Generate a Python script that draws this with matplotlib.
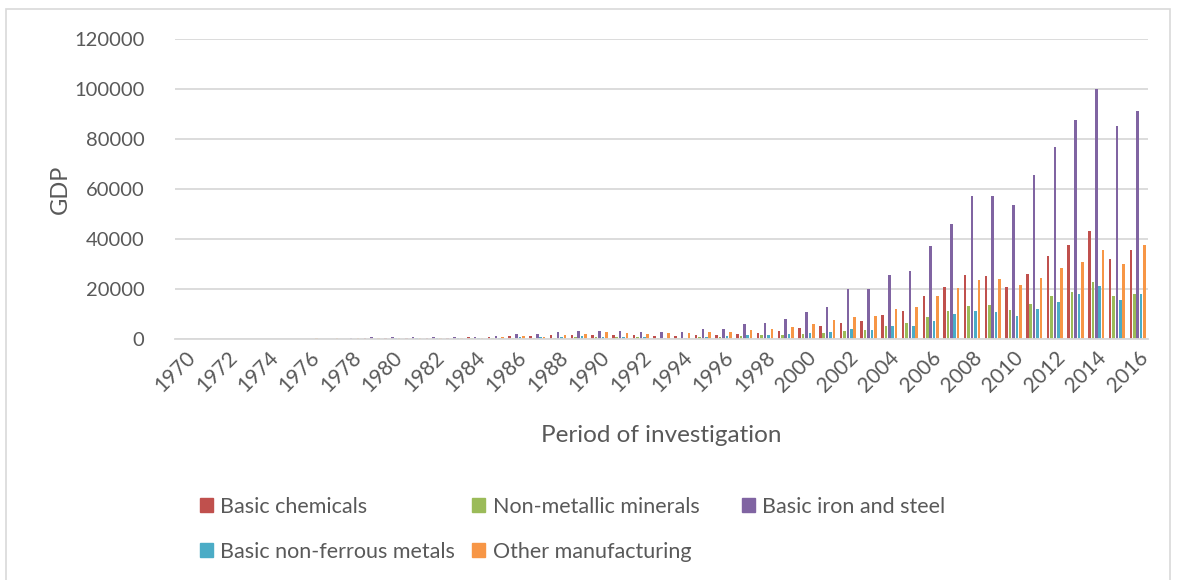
import numpy as np
import matplotlib
matplotlib.use('Agg')
import matplotlib.pyplot as plt
from matplotlib.patches import Rectangle, Patch

plt.rcParams['font.family'] = ['Lato', 'DejaVu Sans']

years = list(range(1970, 2017))

basic_chemicals = [30, 40, 50, 60, 80, 100, 130, 160, 200, 400,
                   500, 500, 550, 600, 665, 930, 1060, 1060, 1460, 1460,
                   1600, 1600, 1460, 1060, 1060, 1460, 1460, 2130, 2400, 3190,
                   4500, 5360, 6300, 7100, 9790, 11400, 17290, 20640, 25600, 25330,
                   20910, 26000, 33240, 37670, 43300, 32040, 35660]
non_metallic = [10, 15, 20, 25, 30, 40, 50, 60, 80, 100,
                150, 150, 180, 200, 270, 270, 400, 270, 530, 665,
                800, 800, 800, 530, 400, 800, 800, 1200, 1460, 1460,
                1880, 2410, 3080, 3620, 5090, 6570, 8710, 11120, 13140, 13540,
                11660, 13940, 17160, 18770, 22790, 17160, 17830]
iron_steel = [20, 30, 40, 50, 70, 90, 120, 200, 400, 700,
              1000, 900, 900, 800, 850, 1330, 1860, 1860, 2660, 3190,
              3190, 3190, 2750, 2800, 2800, 3860, 3860, 5850, 6520, 8100,
              10900, 13000, 19970, 19840, 25600, 27080, 37130, 45980, 57240, 57240,
              53750, 65420, 76810, 87530, 99870, 85390, 91020]
non_ferrous = [10, 10, 15, 20, 25, 30, 40, 60, 100, 200,
               400, 300, 250, 250, 270, 530, 665, 800, 930, 1060,
               930, 800, 800, 400, 530, 665, 1200, 1460, 1730, 2000,
               2550, 2815, 4150, 3480, 5090, 5090, 7240, 9920, 11260, 10860,
               9380, 11930, 14750, 17830, 21050, 15550, 17960]
other_manuf = [40, 50, 70, 90, 150, 200, 250, 300, 350, 400,
               550, 600, 450, 500, 530, 665, 1060, 930, 1460, 1860,
               2660, 2400, 2130, 2400, 2530, 2660, 2800, 3720, 4000, 4650,
               5900, 7500, 8710, 9250, 11930, 12730, 17290, 20240, 23590, 23990,
               21580, 24260, 28280, 30830, 35660, 30030, 37530]

labels = ['Basic chemicals', 'Non-metallic minerals', 'Basic iron and steel',
          'Basic non-ferrous metals', 'Other manufacturing']
series = [basic_chemicals, non_metallic, iron_steel, non_ferrous, other_manuf]
colors = ['#C0504D', '#9BBB59', '#8064A2', '#4BACC6', '#F79646']

txt = '#595959'
grid = '#D9D9D9'

fig = plt.figure(figsize=(11.77, 5.8), dpi=100)
ax = fig.add_axes([175 / 1177, 1 - 339 / 580, (1148 - 175) / 1177, 300 / 580])

x = np.arange(len(years))
slot = 0.165
width = 0.125
for i, (vals, c) in enumerate(zip(series, colors)):
    ax.bar(x + (i - 2) * slot, vals, width=width, color=c, zorder=3)

ax.set_xlim(-0.5, len(years) - 0.5)
ax.set_ylim(0, 120000)
ax.set_yticks(range(0, 120001, 20000))
ax.yaxis.grid(True, color=grid, lw=1.3, zorder=0)
for s in ['top', 'right', 'left']:
    ax.spines[s].set_visible(False)
ax.spines['bottom'].set_color(grid)
ax.spines['bottom'].set_linewidth(1.3)
ax.spines['bottom'].set_zorder(4)
ax.tick_params(axis='both', length=0, colors=txt, labelsize=14.5)
ax.tick_params(axis='y', pad=22)

ax.set_xticks(x[::2])
ax.set_xticklabels([str(y) for y in years[::2]], rotation=45, ha='right',
                   va='top', rotation_mode='anchor', fontsize=15)
ax.tick_params(axis='x', pad=6)

ax.set_xlabel('Period of investigation', fontsize=17.5, color=txt, labelpad=21)
ax.set_ylabel('GDP', fontsize=17, color=txt, labelpad=2)

# legend: first two columns, then the third column on its own
h = [Patch(color=c) for c in colors]
order = [0, 3, 1, 4]
leg_kw = dict(frameon=False, fontsize=15.5, handlelength=0.6, handleheight=0.6,
              handletextpad=0.35, borderpad=0, labelcolor=txt, loc='upper left')
fig.legend([h[k] for k in order], [labels[k] for k in order], ncol=2,
           bbox_to_anchor=(189 / 1177, 1 - 486 / 580),
           columnspacing=0.8, labelspacing=1.15, **leg_kw)
fig.legend([h[2]], [labels[2]], bbox_to_anchor=(731 / 1177, 1 - 486 / 580),
           **leg_kw)

fig.patches.append(Rectangle((6 / 1177, -0.05), 1164 / 1177, 1.05 - 9 / 580,
                             transform=fig.transFigure, fill=False,
                             edgecolor=grid, lw=1.2))

fig.savefig('out.png', dpi=100)
